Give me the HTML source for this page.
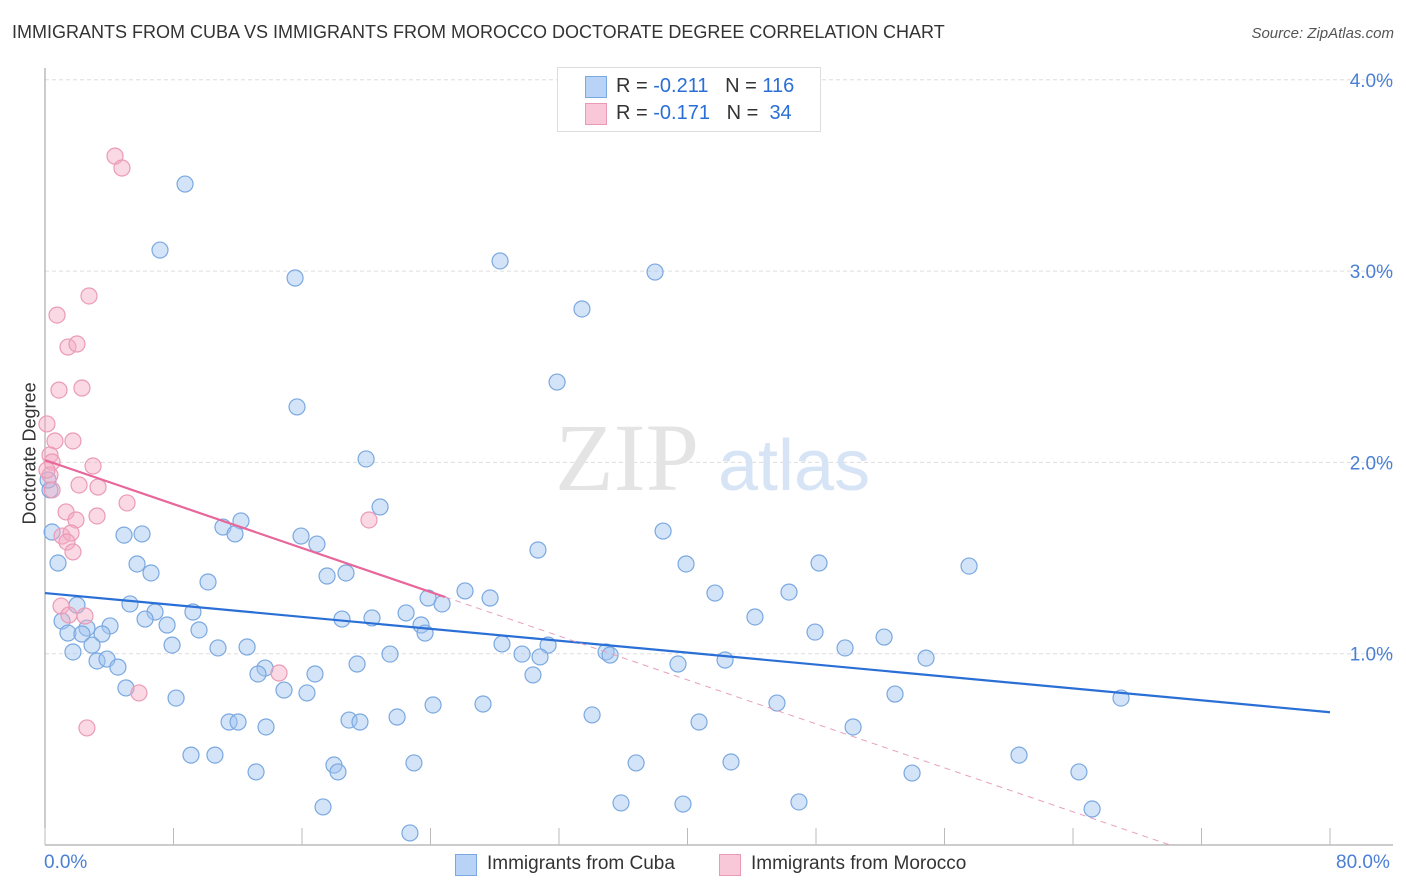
<!DOCTYPE html>
<html><head><meta charset="utf-8">
<style>
body{margin:0;background:#fff;font-family:"Liberation Sans",sans-serif;}
#wrap{position:relative;width:1406px;height:892px;overflow:hidden;}
.t{position:absolute;white-space:nowrap;}
</style></head>
<body>
<div id="wrap">
<div class="t" style="left:12px;top:22px;font-size:18px;color:#333;">IMMIGRANTS FROM CUBA VS IMMIGRANTS FROM MOROCCO DOCTORATE DEGREE CORRELATION CHART</div>
<div class="t" style="right:12px;top:25px;font-size:15px;color:#555;font-style:italic;">Source: ZipAtlas.com</div>
<svg id="plot" width="1406" height="892" style="position:absolute;left:0;top:0"></svg>
</div>
<script>
const cubaX=[8.72,7.16,15.57,28.33,37.98,33.43,31.88,15.69,19.99,20.86,0.44,0.81,4.92,6.04,5.73,6.60,11.08,12.20,11.83,10.15,15.94,16.93,17.56,18.74,30.69,38.48,39.91,48.19,57.53,41.71,46.32,44.20,47.94,49.81,52.24,54.85,42.34,39.41,34.93,35.18,31.32,30.82,29.70,28.45,30.38,26.15,27.71,24.72,23.85,22.48,23.41,23.66,20.36,18.49,21.48,19.43,5.29,6.85,9.21,7.60,6.23,1.06,1.99,2.61,4.05,3.55,1.43,2.30,1.74,2.93,3.24,3.86,4.54,5.04,7.91,9.59,10.77,12.58,13.70,13.26,16.81,14.88,16.31,8.16,18.93,19.61,21.92,24.16,27.27,34.06,40.72,45.57,52.92,66.99,50.31,11.46,12.02,13.76,9.09,10.58,13.14,17.99,18.24,22.97,36.80,42.71,53.98,60.64,64.37,17.31,22.72,35.86,39.72,46.94,65.19,0.31,0.19];
const cubaY=[3.455,3.11,2.964,3.053,2.995,2.802,2.42,2.29,2.018,1.767,1.636,1.474,1.62,1.626,1.469,1.422,1.662,1.694,1.626,1.375,1.615,1.573,1.406,1.422,1.542,1.641,1.469,1.474,1.458,1.317,1.322,1.192,1.113,1.03,1.087,0.977,0.967,0.946,1.009,0.993,1.045,0.983,0.998,1.051,0.889,1.328,1.291,1.26,1.291,1.213,1.15,1.108,1.187,1.181,0.998,0.946,1.26,1.218,1.218,1.15,1.181,1.171,1.254,1.134,1.145,1.103,1.108,1.103,1.009,1.045,0.962,0.972,0.93,0.821,1.045,1.124,1.03,1.035,0.925,0.894,0.894,0.81,0.795,0.768,0.653,0.643,0.669,0.732,0.737,0.68,0.643,0.742,0.789,0.768,0.617,0.643,0.643,0.617,0.47,0.47,0.382,0.418,0.382,0.429,0.429,0.434,0.376,0.47,0.382,0.199,0.063,0.22,0.214,0.225,0.188,1.856,1.908];
const morX=[4.36,4.79,2.74,0.75,1.43,1.99,0.87,2.30,0.12,0.62,1.74,0.31,0.44,2.99,0.31,2.12,3.30,0.44,5.11,1.31,3.24,1.93,1.06,1.62,1.37,1.74,1.00,1.49,2.49,5.85,2.61,14.57,20.17,0.12];
const morY=[3.601,3.539,2.870,2.770,2.603,2.619,2.378,2.389,2.201,2.112,2.112,2.039,2.002,1.981,1.934,1.882,1.871,1.856,1.788,1.741,1.72,1.699,1.615,1.631,1.584,1.532,1.249,1.202,1.197,0.795,0.612,0.899,1.699,1.96];
const cubaTrend=[1.317,0.694];       // y at x=0 and x=80
const morTrend=[2.012,24.9,70.04];   // y at 0, solid end x, zero-crossing x
const yTicks=[1,2,3,4];
const yTickLabels=["1.0%","2.0%","3.0%","4.0%"];
const xTicks=[0,8,16,24,32,40,48,56,64,72,80];

const X0=45,X1=1330,Y0=845,PX=191.3;
const sx=v=>X0+(v/80)*(X1-X0);
const sy=v=>Y0-v*PX;
const svg=document.getElementById('plot');
const NS='http://www.w3.org/2000/svg';
function mk(tag,attrs,parent){const e=document.createElementNS(NS,tag);for(const k in attrs)e.setAttribute(k,attrs[k]);(parent||svg).appendChild(e);return e;}

// gridlines + y labels
yTicks.forEach((v,i)=>{
  const g=mk('line',{x1:X0,x2:1393,y1:sy(v),y2:sy(v),stroke:'#ddd','stroke-dasharray':'4,3'});
  
  
  const t=mk('text',{x:1393,y:sy(v)+7,'text-anchor':'end','font-size':19,fill:'#4a7fd4','font-family':'Liberation Sans'});
  t.textContent=yTickLabels[i];
  
  
});
// axes
const ya=mk('line',{x1:X0,x2:X0,y1:68,y2:Y0,stroke:'#999'});


const xa=mk('line',{x1:X0,x2:1393,y1:Y0,y2:Y0,stroke:'#999'});


xTicks.forEach(v=>{
  const l=mk('line',{x1:sx(v),x2:sx(v),y1:828,y2:Y0,stroke:'#bbb'});
  
  
});
// watermark
const wm=mk('text',{x:555,y:490,'font-size':96,fill:'#e4e4e4','font-family':'Liberation Serif'});
wm.textContent='ZIP';


const wm2=mk('text',{x:718,y:490,'font-size':72,fill:'#d6e4f5','font-family':'Liberation Sans'});
wm2.textContent='atlas';



// points
cubaX.forEach((x,i)=>{
  const c=mk('circle',{cx:sx(x),cy:sy(cubaY[i]),r:8,fill:'rgba(160,196,240,0.45)',stroke:'#7aa8e0','stroke-width':1.2});
  
  
});
morX.forEach((x,i)=>{
  const c=mk('circle',{cx:sx(x),cy:sy(morY[i]),r:8,fill:'rgba(245,170,195,0.45)',stroke:'#eb9ab5','stroke-width':1.2});
  
  
});
// trend lines
const ct=mk('line',{x1:sx(0),y1:sy(cubaTrend[0]),x2:sx(80),y2:sy(cubaTrend[1]),stroke:'#2a6fd6','stroke-width':2.2});


const slope=-morTrend[0]/morTrend[2];
const ym=morTrend[0]+slope*morTrend[1];
const mt=mk('line',{x1:sx(0),y1:sy(morTrend[0]),x2:sx(morTrend[1]),y2:sy(ym),stroke:'#e8679a','stroke-width':2.2});


const md=mk('line',{x1:sx(morTrend[1]),y1:sy(ym),x2:sx(morTrend[2]),y2:sy(0),stroke:'#e8a0bb','stroke-width':1,'stroke-dasharray':'6,5'});


</script>

<div class="t" style="left:-40px;top:444px;width:140px;text-align:center;transform:rotate(-90deg);font-size:18px;color:#333;">Doctorate Degree</div>
<div class="t" style="left:44px;top:852px;font-size:19px;color:#4a7fd4;">0.0%</div>
<div class="t" style="left:1336px;top:852px;font-size:19px;color:#4a7fd4;">80.0%</div>

<div style="position:absolute;left:557px;top:67px;width:262px;height:63px;border:1px solid #ddd;background:#fff;font-size:20px;">
  <div style="position:absolute;left:27px;top:8px;width:20px;height:20px;background:#b8d3f5;border:1px solid #7aa8e0;"></div>
  <div class="t" style="left:58px;top:7px;color:#333;">R = <span style="color:#2a6fd6">-0.211</span>&nbsp;&nbsp;&nbsp;N = <span style="color:#2a6fd6">116</span></div>
  <div style="position:absolute;left:27px;top:35px;width:20px;height:20px;background:#f8c8d8;border:1px solid #eb9ab5;"></div>
  <div class="t" style="left:58px;top:34px;color:#333;">R = <span style="color:#2a6fd6">-0.171</span>&nbsp;&nbsp;&nbsp;N = &nbsp;<span style="color:#2a6fd6">34</span></div>
</div>

<div style="position:absolute;left:455px;top:853px;">
  <div style="position:absolute;left:0;top:1px;width:20px;height:20px;background:#b8d3f5;border:1px solid #7aa8e0;"></div>
  <div class="t" style="left:32px;top:0;font-size:19px;color:#333;">Immigrants from Cuba</div>
</div>
<div style="position:absolute;left:719px;top:853px;">
  <div style="position:absolute;left:0;top:1px;width:20px;height:20px;background:#f8c8d8;border:1px solid #eb9ab5;"></div>
  <div class="t" style="left:32px;top:0;font-size:19px;color:#333;">Immigrants from Morocco</div>
</div>
</body></html>
